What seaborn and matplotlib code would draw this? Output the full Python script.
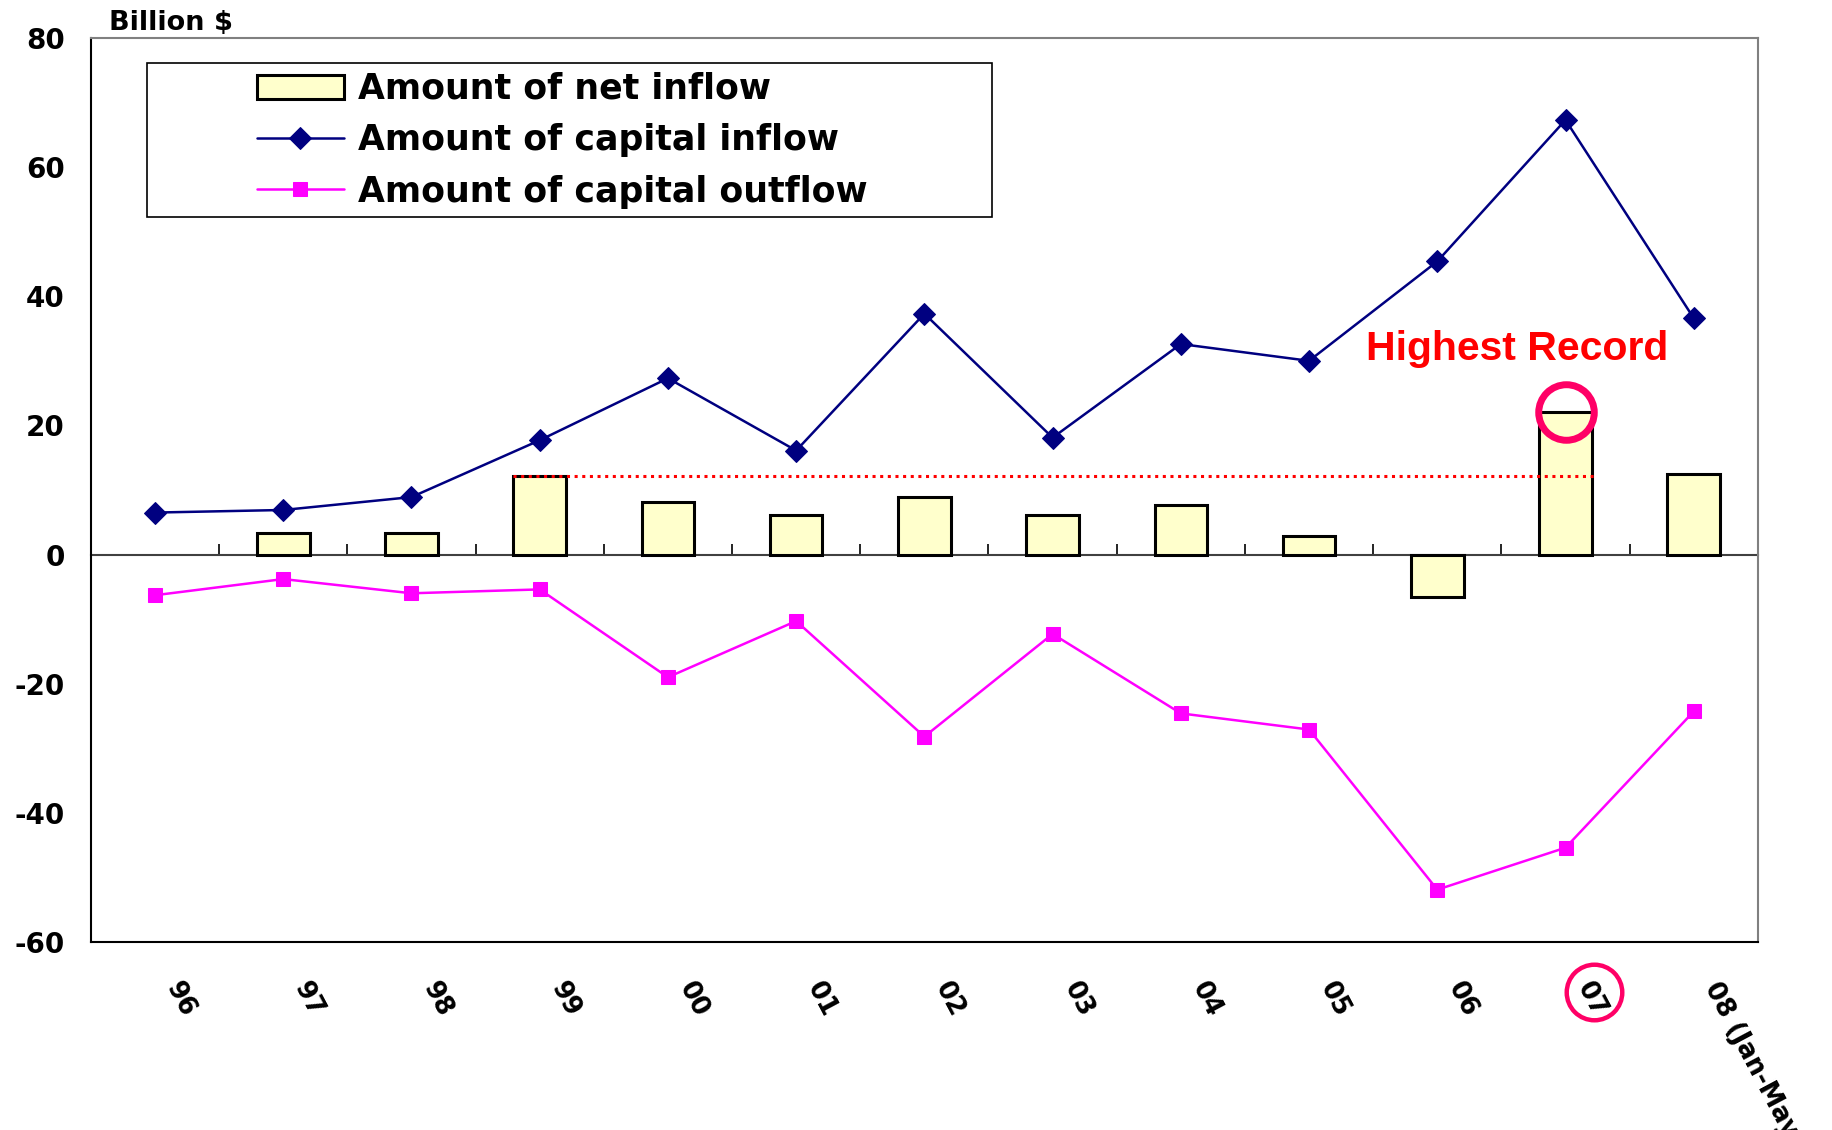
import numpy as np
import pandas as pd
import matplotlib
matplotlib.use("Agg")
import matplotlib.pyplot as plt
import matplotlib.transforms as mtransforms
from matplotlib.patches import Rectangle
import seaborn as sns

# data (billion $); no visible net bar for 96
years = ["96", "97", "98", "99", "00", "01", "02", "03", "04", "05", "06", "07", "08 (Jan-May )"]
net_inflow = [np.nan, 3.3, 3.3, 12.1, 8.1, 6.2, 8.9, 6.2, 7.6, 2.9, -6.5, 22.1, 12.5]
capital_inflow = [6.5, 6.9, 8.9, 17.7, 27.3, 16.1, 37.3, 18.1, 32.6, 30.0, 45.4, 67.3, 36.6]
capital_outflow = [-6.3, -3.8, -6.0, -5.4, -19.0, -10.3, -28.2, -12.3, -24.6, -27.1, -51.9, -45.4, -24.3]
yticks = [-60, -40, -20, 0, 20, 40, 60, 80]
labels = ["Amount of net inflow", "Amount of capital inflow", "Amount of capital outflow"]
highest_idx = 11
ref_idx = 3

sns.set_style("white")
plt.rcParams["font.family"] = ["DejaVu Sans"]
plt.rcParams["font.weight"] = "bold"
plt.rcParams["axes.unicode_minus"] = False
for key in ["text.color", "axes.labelcolor", "xtick.color", "ytick.color"]:
    plt.rcParams[key] = "black"

df = pd.DataFrame({"year": years, "net": net_inflow,
                   "cin": capital_inflow, "cout": capital_outflow})

fig = plt.figure(figsize=(18.33, 11.30), dpi=100)
ax = fig.add_axes([0.0496, 0.1664, 0.9094, 0.8])

bar_w = 0.41
sns.barplot(data=df, x="year", y="net", color="#FFFFCC", saturation=1,
            edgecolor="black", linewidth=2.2, width=bar_w,
            label=labels[0], ax=ax)
sns.lineplot(data=df, x="year", y="cin", sort=False, color="#000080",
             marker="D", markersize=11, markeredgecolor="#000080",
             linewidth=1.8, label=labels[1], ax=ax)
sns.lineplot(data=df, x="year", y="cout", sort=False, color="#FF00FF",
             marker="s", markersize=10.5, markeredgecolor="#FF00FF",
             linewidth=1.8, label=labels[2], ax=ax)

ax.set_xlabel("")
ax.set_ylabel("")
ax.set_xlim(-0.5, len(years) - 0.5)
ax.set_ylim(yticks[0], yticks[-1])
ax.set_yticks(yticks)
ax.tick_params(axis="y", direction="in", length=7, width=1, pad=19, labelsize=20)
ax.tick_params(axis="x", length=0, pad=30, labelsize=18.5)

for side in ["left", "bottom"]:
    ax.spines[side].set_color("black")
    ax.spines[side].set_linewidth(1.5)
for side in ["top", "right"]:
    ax.spines[side].set_color("#808080")
    ax.spines[side].set_linewidth(1.5)

# category axis through zero with ticks between categories
zero_frac = (0 - yticks[0]) / (yticks[-1] - yticks[0])
sec = ax.secondary_xaxis(zero_frac)
sec.set_xticks(np.arange(len(years) + 1) - 0.5)
sec.tick_params(direction="in", length=8, width=1.2, labelbottom=False, labeltop=False)
for sp in sec.spines.values():
    sp.set_color("#404040")
    sp.set_linewidth(1.5)

# reference dotted line from the 99 level to 07
ax.hlines(net_inflow[ref_idx], ref_idx - bar_w / 2, highest_idx + bar_w / 2 + 0.03,
          colors="red", linestyles=(0, (1, 1.5)), linewidth=2.2, zorder=3)

# highest record marking
ax.plot(highest_idx, net_inflow[highest_idx], "o", ms=40, mfc="none",
        mec="#FF0066", mew=5, zorder=6)
ax.annotate("Highest Record", xy=(highest_idx, net_inflow[highest_idx]),
            xytext=(-35, 45), textcoords="offset points", ha="center", va="center",
            color="red", fontsize=29.5, fontweight="bold", family="Liberation Sans")
blend = mtransforms.blended_transform_factory(ax.transData, ax.transAxes)
label_shift = mtransforms.ScaledTranslation(0.28, 0, fig.dpi_scale_trans)
ax.plot(highest_idx, -0.0553, "o", transform=blend + label_shift, ms=40, mfc="none",
        mec="#FF0066", mew=3.2, clip_on=False, zorder=6)

# legend with its own box, bars listed first
handles, labs = ax.get_legend_handles_labels()
order = [labs.index(l) for l in labels]
ax.legend([handles[i] for i in order], [labs[i] for i in order],
          loc="upper left", bbox_to_anchor=(0.0996, 0.9625), frameon=False,
          fontsize=25, handlelength=2.5, handletextpad=0.4, labelspacing=0.5,
          borderpad=0, borderaxespad=0)
ax.add_patch(Rectangle((0.0336, 0.802), 0.507, 0.170, transform=ax.transAxes,
                       fill=False, edgecolor="black", linewidth=1.2, zorder=5))

fig.text(0.0595, 0.9796, "Billion $", fontsize=19.5, fontweight="bold", va="center")

shift = mtransforms.ScaledTranslation(0.17, 0, fig.dpi_scale_trans)
for lab in ax.get_xticklabels():
    lab.set_rotation(-62)
    lab.set_rotation_mode("anchor")
    lab.set_ha("left")
    lab.set_va("center")
    lab.set_transform(lab.get_transform() + shift)

fig.savefig("out.png", dpi=100)
